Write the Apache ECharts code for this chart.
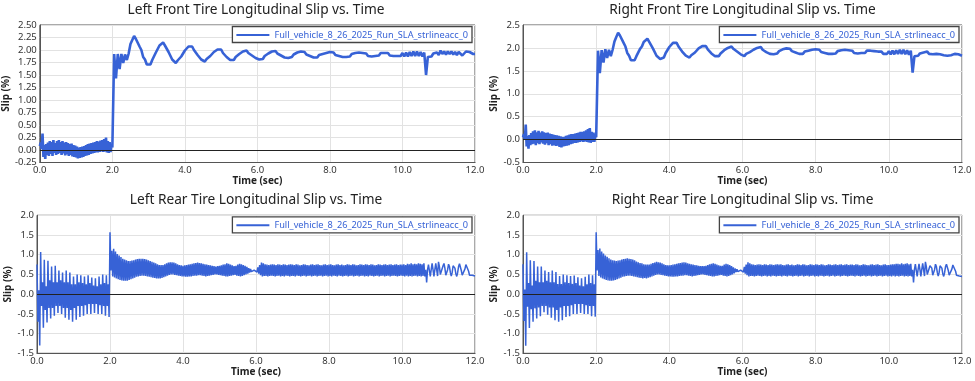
<!DOCTYPE html>
<html><head><meta charset="utf-8">
<script src="https://cdn.jsdelivr.net/npm/echarts@6/dist/echarts.min.js"></script>
<style>html,body{margin:0;padding:0;background:#fff}#c{width:975px;height:381px}</style>
</head><body><div id="c"></div>
<script>
// sample times, 0.05 s
const time = [
0,0.05,0.1,0.15,0.2,0.25,0.3,0.35,0.4,0.45,0.5,0.55,0.6,0.65,0.7,0.75,0.8,0.85,0.9,0.95,
1,1.05,1.1,1.15,1.2,1.25,1.3,1.35,1.4,1.45,1.5,1.55,1.6,1.65,1.7,1.75,1.8,1.85,1.9,1.95,
2,2.05,2.1,2.15,2.2,2.25,2.3,2.35,2.4,2.45,2.5,2.55,2.6,2.65,2.7,2.75,2.8,2.85,2.9,2.95,
3,3.05,3.1,3.15,3.2,3.25,3.3,3.35,3.4,3.45,3.5,3.55,3.6,3.65,3.7,3.75,3.8,3.85,3.9,3.95,
4,4.05,4.1,4.15,4.2,4.25,4.3,4.35,4.4,4.45,4.5,4.55,4.6,4.65,4.7,4.75,4.8,4.85,4.9,4.95,
5,5.05,5.1,5.15,5.2,5.25,5.3,5.35,5.4,5.45,5.5,5.55,5.6,5.65,5.7,5.75,5.8,5.85,5.9,5.95,
6,6.05,6.1,6.15,6.2,6.25,6.3,6.35,6.4,6.45,6.5,6.55,6.6,6.65,6.7,6.75,6.8,6.85,6.9,6.95,
7,7.05,7.1,7.15,7.2,7.25,7.3,7.35,7.4,7.45,7.5,7.55,7.6,7.65,7.7,7.75,7.8,7.85,7.9,7.95,
8,8.05,8.1,8.15,8.2,8.25,8.3,8.35,8.4,8.45,8.5,8.55,8.6,8.65,8.7,8.75,8.8,8.85,8.9,8.95,
9,9.05,9.1,9.15,9.2,9.25,9.3,9.35,9.4,9.45,9.5,9.55,9.6,9.65,9.7,9.75,9.8,9.85,9.9,9.95,
10,10.05,10.1,10.15,10.2,10.25,10.3,10.35,10.4,10.45,10.5,10.55,10.6,10.65,10.7,10.75,10.8,10.85,10.9,10.95,
11,11.05,11.1,11.15,11.2,11.25,11.3,11.35,11.4,11.45,11.5,11.55,11.6,11.65,11.7,11.75,11.8,11.85,11.9,11.95,
12];
// sample times, 0.025 s
const timeFine = [
0,0.025,0.05,0.075,0.1,0.125,0.15,0.175,0.2,0.225,0.25,0.275,0.3,0.325,0.35,0.375,0.4,0.425,0.45,0.475,0.5,0.525,0.55,0.575,0.6,0.625,0.65,0.675,0.7,0.725,0.75,0.775,0.8,0.825,0.85,0.875,0.9,0.925,0.95,0.975,
1,1.025,1.05,1.075,1.1,1.125,1.15,1.175,1.2,1.225,1.25,1.275,1.3,1.325,1.35,1.375,1.4,1.425,1.45,1.475,1.5,1.525,1.55,1.575,1.6,1.625,1.65,1.675,1.7,1.725,1.75,1.775,1.8,1.825,1.85,1.875,1.9,1.925,1.95,1.975,
2,2.025,2.05,2.075,2.1,2.125,2.15,2.175,2.2,2.225,2.25,2.275,2.3,2.325,2.35,2.375,2.4,2.425,2.45,2.475,2.5,2.525,2.55,2.575,2.6,2.625,2.65,2.675,2.7,2.725,2.75,2.775,2.8,2.825,2.85,2.875,2.9,2.925,2.95,2.975,
3,3.025,3.05,3.075,3.1,3.125,3.15,3.175,3.2,3.225,3.25,3.275,3.3,3.325,3.35,3.375,3.4,3.425,3.45,3.475,3.5,3.525,3.55,3.575,3.6,3.625,3.65,3.675,3.7,3.725,3.75,3.775,3.8,3.825,3.85,3.875,3.9,3.925,3.95,3.975,
4,4.025,4.05,4.075,4.1,4.125,4.15,4.175,4.2,4.225,4.25,4.275,4.3,4.325,4.35,4.375,4.4,4.425,4.45,4.475,4.5,4.525,4.55,4.575,4.6,4.625,4.65,4.675,4.7,4.725,4.75,4.775,4.8,4.825,4.85,4.875,4.9,4.925,4.95,4.975,
5,5.025,5.05,5.075,5.1,5.125,5.15,5.175,5.2,5.225,5.25,5.275,5.3,5.325,5.35,5.375,5.4,5.425,5.45,5.475,5.5,5.525,5.55,5.575,5.6,5.625,5.65,5.675,5.7,5.725,5.75,5.775,5.8,5.825,5.85,5.875,5.9,5.925,5.95,5.975,
6,6.025,6.05,6.075,6.1,6.125,6.15,6.175,6.2,6.225,6.25,6.275,6.3,6.325,6.35,6.375,6.4,6.425,6.45,6.475,6.5,6.525,6.55,6.575,6.6,6.625,6.65,6.675,6.7,6.725,6.75,6.775,6.8,6.825,6.85,6.875,6.9,6.925,6.95,6.975,
7,7.025,7.05,7.075,7.1,7.125,7.15,7.175,7.2,7.225,7.25,7.275,7.3,7.325,7.35,7.375,7.4,7.425,7.45,7.475,7.5,7.525,7.55,7.575,7.6,7.625,7.65,7.675,7.7,7.725,7.75,7.775,7.8,7.825,7.85,7.875,7.9,7.925,7.95,7.975,
8,8.025,8.05,8.075,8.1,8.125,8.15,8.175,8.2,8.225,8.25,8.275,8.3,8.325,8.35,8.375,8.4,8.425,8.45,8.475,8.5,8.525,8.55,8.575,8.6,8.625,8.65,8.675,8.7,8.725,8.75,8.775,8.8,8.825,8.85,8.875,8.9,8.925,8.95,8.975,
9,9.025,9.05,9.075,9.1,9.125,9.15,9.175,9.2,9.225,9.25,9.275,9.3,9.325,9.35,9.375,9.4,9.425,9.45,9.475,9.5,9.525,9.55,9.575,9.6,9.625,9.65,9.675,9.7,9.725,9.75,9.775,9.8,9.825,9.85,9.875,9.9,9.925,9.95,9.975,
10,10.025,10.05,10.075,10.1,10.125,10.15,10.175,10.2,10.225,10.25,10.275,10.3,10.325,10.35,10.375,10.4,10.425,10.45,10.475,10.5,10.525,10.55,10.575,10.6,10.625,10.65,10.675,10.7,10.725,10.75,10.775,10.8,10.825,10.85,10.875,10.9,10.925,10.95,10.975,
11,11.025,11.05,11.075,11.1,11.125,11.15,11.175,11.2,11.225,11.25,11.275,11.3,11.325,11.35,11.375,11.4,11.425,11.45,11.475,11.5,11.525,11.55,11.575,11.6,11.625,11.65,11.675,11.7,11.725,11.75,11.775,11.8,11.825,11.85,11.875,11.9,11.925,11.95,11.975,
12];
// front tires: fine steps up to 2.0 s, then 0.05 s
const timeFront = timeFine.slice(0, 81).concat(time.slice(41));

const leftFront = [
0.08,0.15,0.02,0.33,-0.14,0.10,-0.18,0.12,-0.10,0.15,-0.12,0.18,-0.08,0.16,-0.12,0.20,-0.06,0.14,-0.10,0.18,
-0.08,0.20,-0.06,0.16,-0.10,0.18,-0.07,0.15,-0.11,0.16,-0.09,0.14,-0.12,0.12,-0.10,0.13,-0.13,0.10,-0.14,0.09,
-0.15,0.07,-0.17,0.05,-0.16,0.06,-0.15,0.07,-0.14,0.08,-0.12,0.10,-0.11,0.12,-0.10,0.13,-0.08,0.14,-0.07,0.15,
-0.06,0.16,-0.05,0.18,-0.05,0.17,-0.04,0.19,-0.03,0.20,-0.04,0.22,-0.03,0.25,-0.05,0.18,-0.06,0.16,-0.04,0.12,
0.05,
1.92,1.43,1.92,1.62,1.92,1.74,1.91,1.80,1.93,2.12,2.20,2.28,2.22,2.20,2.07,2.00,1.86,1.81,1.71,
1.73,1.71,1.80,1.83,1.95,1.99,2.09,2.09,2.15,2.09,2.08,1.96,1.92,1.81,1.80,1.74,1.79,1.78,1.87,1.89,
1.99,2.00,2.07,2.04,2.07,2.00,2.00,1.90,1.89,1.81,1.82,1.77,1.82,1.80,1.88,1.88,1.96,1.95,2.01,1.98,
2.01,1.94,1.94,1.86,1.87,1.80,1.83,1.80,1.86,1.85,1.92,1.91,1.97,1.95,1.99,1.94,1.96,1.89,1.90,1.84,
1.86,1.81,1.85,1.82,1.88,1.86,1.93,1.91,1.97,1.94,1.98,1.93,1.95,1.89,1.91,1.85,1.88,1.84,1.88,1.86,
1.91,1.89,1.95,1.92,1.97,1.93,1.96,1.91,1.93,1.88,1.90,1.85,1.89,1.85,1.90,1.87,1.92,1.89,1.94,1.91,
1.96,1.92,1.95,1.90,1.93,1.88,1.91,1.86,1.90,1.86,1.90,1.87,1.92,1.89,1.94,1.90,1.95,1.91,1.94,1.90,
1.93,1.88,1.92,1.87,1.91,1.88,1.92,1.89,1.94,1.90,1.94,1.90,1.94,1.89,1.93,1.88,1.92,1.88,1.92,1.88,
1.94,1.87,1.95,1.87,1.96,1.88,1.97,1.88,1.97,1.88,1.96,1.87,1.95,1.50,1.86,1.90,1.87,1.93,1.89,1.95,
1.90,1.99,1.92,1.97,1.91,1.97,1.92,1.97,1.91,1.96,1.90,1.96,1.92,1.89,1.93,1.97,1.99,1.96,1.93,1.92,
1.92];

const rightFront = [
0.05,0.12,0.00,0.33,-0.15,0.08,-0.20,0.10,-0.12,0.14,-0.10,0.18,-0.09,0.20,-0.12,0.16,-0.08,0.19,-0.10,0.15,
-0.06,0.18,-0.09,0.16,-0.11,0.14,-0.08,0.15,-0.12,0.13,-0.10,0.12,-0.13,0.11,-0.12,0.10,-0.14,0.09,-0.13,0.08,
-0.16,0.07,-0.17,0.06,-0.15,0.06,-0.14,0.08,-0.13,0.09,-0.12,0.11,-0.10,0.12,-0.09,0.12,-0.07,0.13,-0.07,0.14,
-0.06,0.15,-0.05,0.17,-0.04,0.17,-0.05,0.18,-0.04,0.20,-0.05,0.23,-0.06,0.25,-0.07,0.17,-0.05,0.15,-0.05,0.10,
0.05,
1.94,1.45,1.95,1.68,1.97,1.78,1.96,1.82,1.96,2.14,2.24,2.33,2.27,2.23,2.11,2.03,1.89,1.83,1.73,
1.75,1.73,1.82,1.86,1.98,2.03,2.13,2.13,2.20,2.13,2.12,1.99,1.95,1.83,1.82,1.76,1.80,1.79,1.89,1.91,
2.02,2.03,2.11,2.07,2.11,2.03,2.03,1.92,1.91,1.83,1.84,1.79,1.84,1.82,1.90,1.90,1.99,1.98,2.04,2.01,
2.04,1.97,1.97,1.88,1.89,1.82,1.85,1.82,1.88,1.87,1.95,1.94,2.00,1.98,2.03,1.98,2.00,1.92,1.93,1.86,
1.88,1.82,1.87,1.84,1.91,1.89,1.96,1.94,2.00,1.97,2.02,1.96,1.98,1.91,1.93,1.87,1.90,1.86,1.90,1.88,
1.93,1.91,1.97,1.94,1.99,1.95,1.98,1.93,1.95,1.90,1.92,1.87,1.91,1.87,1.92,1.89,1.94,1.91,1.96,1.93,
1.97,1.93,1.96,1.91,1.94,1.89,1.92,1.87,1.91,1.87,1.91,1.88,1.93,1.90,1.95,1.91,1.96,1.92,1.95,1.91,
1.94,1.89,1.93,1.88,1.92,1.89,1.93,1.89,1.94,1.90,1.94,1.90,1.93,1.89,1.92,1.88,1.92,1.87,1.91,1.87,
1.93,1.86,1.94,1.86,1.95,1.87,1.96,1.87,1.96,1.86,1.95,1.85,1.94,1.46,1.82,1.86,1.83,1.88,1.85,1.90,
1.86,1.92,1.87,1.91,1.86,1.90,1.87,1.91,1.86,1.89,1.84,1.88,1.83,1.80,1.84,1.88,1.87,1.83,1.86,1.85,
1.83];

const leftRear = [
0.75,-0.70,0.10,-1.30,1.07,-0.30,0.30,-0.85,0.87,-0.40,0.20,-0.72,0.85,-0.35,0.35,-0.62,0.70,-0.35,0.30,-0.55,
0.72,-0.30,0.30,-0.48,0.60,-0.30,0.35,-0.50,0.55,-0.35,0.30,-0.60,0.60,-0.35,0.30,-0.65,0.55,-0.40,0.25,-0.70,
0.45,-0.35,0.25,-0.65,0.50,-0.30,0.30,-0.58,0.48,-0.30,0.28,-0.55,0.45,-0.28,0.25,-0.50,0.48,-0.25,0.28,-0.50,
0.42,-0.25,0.22,-0.48,0.40,-0.25,0.20,-0.50,0.45,-0.28,0.25,-0.50,0.50,-0.30,0.28,-0.55,0.48,-0.30,0.25,-0.58,
1.57,0.60,1.10,0.45,1.15,0.42,1.08,0.40,1.02,0.38,0.98,0.36,0.94,0.35,0.90,0.34,0.88,0.34,0.86,0.34,
0.84,0.36,0.84,0.38,0.85,0.40,0.86,0.42,0.88,0.44,0.89,0.45,0.90,0.46,0.90,0.47,0.90,0.47,0.89,0.46,
0.88,0.45,0.86,0.44,0.84,0.43,0.82,0.42,0.80,0.41,0.78,0.40,0.76,0.40,0.74,0.40,0.74,0.41,0.74,0.43,
0.76,0.45,0.78,0.47,0.80,0.49,0.81,0.50,0.81,0.50,0.80,0.49,0.78,0.48,0.76,0.47,0.74,0.46,0.73,0.45,
0.72,0.45,0.73,0.44,0.74,0.44,0.75,0.45,0.76,0.45,0.77,0.46,0.78,0.47,0.79,0.47,0.80,0.48,0.79,0.48,
0.78,0.47,0.77,0.46,0.76,0.45,0.75,0.46,0.74,0.47,0.73,0.48,0.72,0.49,0.71,0.50,0.70,0.50,0.71,0.49,
0.72,0.48,0.73,0.47,0.75,0.46,0.76,0.45,0.78,0.45,0.77,0.46,0.75,0.47,0.73,0.48,0.71,0.49,0.72,0.47,
0.75,0.46,0.77,0.45,0.76,0.46,0.74,0.48,0.72,0.50,0.69,0.52,0.66,0.55,0.64,0.57,0.62,0.58,0.61,0.59,
0.63,0.56,0.68,0.52,0.74,0.48,0.80,0.45,0.78,0.46,0.76,0.46,0.75,0.45,0.74,0.46,0.75,0.47,0.76,0.46,
0.75,0.45,0.74,0.46,0.76,0.47,0.75,0.45,0.74,0.46,0.76,0.45,0.75,0.47,0.74,0.46,0.75,0.45,0.76,0.46,
0.75,0.46,0.74,0.45,0.76,0.47,0.75,0.46,0.73,0.45,0.74,0.46,0.76,0.47,0.75,0.45,0.74,0.46,0.73,0.47,
0.75,0.45,0.76,0.46,0.74,0.47,0.75,0.45,0.76,0.46,0.74,0.47,0.73,0.45,0.75,0.46,0.76,0.47,0.74,0.45,
0.75,0.46,0.76,0.45,0.74,0.47,0.73,0.46,0.75,0.45,0.76,0.47,0.74,0.46,0.75,0.45,0.73,0.46,0.74,0.47,
0.76,0.45,0.75,0.46,0.74,0.47,0.76,0.45,0.75,0.46,0.73,0.47,0.74,0.45,0.76,0.46,0.75,0.47,0.74,0.45,
0.76,0.46,0.75,0.45,0.74,0.47,0.76,0.46,0.75,0.45,0.73,0.46,0.74,0.47,0.76,0.45,0.75,0.46,0.74,0.47,
0.75,0.45,0.76,0.46,0.74,0.47,0.75,0.45,0.76,0.46,0.74,0.47,0.75,0.46,0.76,0.45,0.74,0.46,0.75,0.47,
0.75,0.46,0.76,0.45,0.74,0.47,0.77,0.45,0.76,0.46,0.78,0.45,0.76,0.46,0.77,0.47,0.76,0.45,0.78,0.46,
0.77,0.45,0.76,0.46,0.78,0.45,0.62,0.30,0.62,0.75,0.60,0.45,0.62,0.78,0.62,0.45,0.62,0.78,0.62,0.46,
0.82,0.70,0.50,0.45,0.55,0.72,0.78,0.66,0.48,0.46,0.62,0.76,0.70,0.55,0.46,0.55,0.72,0.76,0.66,0.52,
0.45,0.55,0.70,0.77,0.72,0.60,0.48,0.45,0.52,0.64,0.75,0.77,0.70,0.58,0.48,0.45,0.47,0.48,0.47,0.46,
0.46];

const rightRear = [
0.76,-0.68,0.12,-1.31,1.06,-0.32,0.28,-0.86,0.86,-0.38,0.22,-0.70,0.84,-0.36,0.34,-0.62,0.70,-0.34,0.30,-0.56,
0.70,-0.30,0.30,-0.46,0.60,-0.30,0.34,-0.52,0.56,-0.34,0.30,-0.60,0.60,-0.34,0.30,-0.66,0.56,-0.40,0.26,-0.70,
0.46,-0.34,0.26,-0.66,0.50,-0.30,0.30,-0.58,0.48,-0.30,0.28,-0.56,0.46,-0.28,0.26,-0.50,0.47,-0.25,0.28,-0.50,
0.43,-0.25,0.22,-0.48,0.40,-0.25,0.20,-0.50,0.44,-0.28,0.25,-0.50,0.50,-0.30,0.28,-0.56,0.48,-0.30,0.25,-0.57,
1.57,0.60,1.12,0.46,1.16,0.42,1.08,0.40,1.03,0.38,0.98,0.36,0.95,0.35,0.91,0.34,0.88,0.34,0.86,0.35,
0.85,0.36,0.84,0.38,0.85,0.40,0.86,0.42,0.88,0.44,0.89,0.45,0.90,0.46,0.91,0.47,0.90,0.47,0.89,0.46,
0.88,0.45,0.86,0.44,0.83,0.43,0.81,0.42,0.79,0.41,0.78,0.40,0.76,0.41,0.75,0.40,0.75,0.42,0.75,0.43,
0.77,0.45,0.79,0.47,0.80,0.49,0.82,0.50,0.81,0.50,0.80,0.49,0.78,0.48,0.76,0.47,0.74,0.46,0.73,0.45,
0.73,0.45,0.74,0.44,0.75,0.44,0.76,0.45,0.77,0.45,0.78,0.46,0.79,0.47,0.80,0.47,0.81,0.48,0.80,0.48,
0.78,0.47,0.77,0.46,0.76,0.45,0.75,0.46,0.74,0.47,0.73,0.48,0.72,0.49,0.71,0.50,0.71,0.50,0.71,0.49,
0.72,0.48,0.74,0.47,0.76,0.46,0.77,0.45,0.78,0.45,0.77,0.46,0.75,0.47,0.73,0.48,0.72,0.49,0.72,0.47,
0.75,0.46,0.77,0.45,0.76,0.46,0.74,0.48,0.71,0.50,0.68,0.53,0.65,0.56,0.63,0.57,0.62,0.58,0.61,0.59,
0.64,0.56,0.69,0.52,0.75,0.48,0.81,0.45,0.78,0.46,0.76,0.46,0.75,0.45,0.74,0.46,0.75,0.47,0.76,0.46,
0.75,0.45,0.74,0.46,0.76,0.47,0.75,0.45,0.74,0.46,0.76,0.45,0.75,0.47,0.74,0.46,0.75,0.45,0.76,0.46,
0.75,0.46,0.76,0.45,0.74,0.47,0.73,0.46,0.75,0.45,0.76,0.47,0.74,0.46,0.75,0.45,0.73,0.46,0.74,0.47,
0.76,0.45,0.75,0.46,0.74,0.47,0.76,0.45,0.75,0.46,0.73,0.47,0.74,0.45,0.76,0.46,0.75,0.47,0.74,0.45,
0.76,0.46,0.75,0.45,0.74,0.47,0.76,0.46,0.75,0.45,0.73,0.46,0.74,0.47,0.76,0.45,0.75,0.46,0.74,0.47,
0.75,0.45,0.76,0.46,0.74,0.47,0.75,0.45,0.76,0.46,0.74,0.47,0.75,0.46,0.76,0.45,0.74,0.46,0.75,0.47,
0.75,0.46,0.74,0.45,0.76,0.47,0.75,0.46,0.73,0.45,0.74,0.46,0.76,0.47,0.75,0.45,0.74,0.46,0.73,0.47,
0.75,0.45,0.76,0.46,0.74,0.47,0.75,0.45,0.76,0.46,0.74,0.47,0.73,0.45,0.75,0.46,0.76,0.47,0.74,0.45,
0.74,0.46,0.75,0.45,0.76,0.47,0.76,0.45,0.77,0.46,0.77,0.45,0.76,0.46,0.78,0.47,0.76,0.45,0.77,0.46,
0.78,0.45,0.76,0.46,0.77,0.45,0.62,0.30,0.62,0.76,0.60,0.45,0.62,0.77,0.62,0.45,0.62,0.78,0.62,0.46,
0.82,0.70,0.50,0.45,0.55,0.72,0.77,0.66,0.48,0.46,0.62,0.76,0.70,0.55,0.46,0.55,0.72,0.76,0.66,0.52,
0.45,0.55,0.70,0.76,0.72,0.60,0.48,0.45,0.52,0.64,0.74,0.77,0.70,0.58,0.48,0.45,0.46,0.46,0.45,0.45,
0.45];

const titles = [
  'Left Front Tire Longitudinal Slip vs. Time',
  'Right Front Tire Longitudinal Slip vs. Time',
  'Left Rear Tire Longitudinal Slip vs. Time',
  'Right Rear Tire Longitudinal Slip vs. Time'
];
const seriesName = 'Full_vehicle_8_26_2025_Run_SLA_strlineacc_0';
const xTitle = 'Time (sec)';
const yTitle = 'Slip (%)';

const FONT = 'Noto Sans';
const LINE = '#3762d6';
const panels = [
  {t:timeFront, vals:leftFront,  ymin:-0.25, ymax:2.5, yint:0.25, dec:2, grid:{left:37, top:25, width:438, height:137.5}, yGap:26, titleTop:3, lw:2.6},
  {t:timeFront, vals:rightFront, ymin:-0.5,  ymax:2.5, yint:0.5,  dec:1, grid:{left:523, top:25, width:439, height:137.5}, yGap:21.5, titleTop:3, lw:2.6},
  {t:timeFine,  vals:leftRear,   ymin:-1.5,  ymax:2.0, yint:0.5,  dec:1, grid:{left:37, top:215.3, width:438, height:138}, yGap:22.5, titleTop:193.5, lw:1.5},
  {t:timeFine,  vals:rightRear,  ymin:-1.5,  ymax:2.0, yint:0.5,  dec:1, grid:{left:523, top:215.3, width:439, height:138}, yGap:21.5, titleTop:193.5, lw:1.5}
];

const chart = echarts.init(document.getElementById('c'), null, {renderer:'canvas'});
const option = {
  animation:false,
  backgroundColor:'#fff',
  title: panels.map((p,i)=>({
    text: titles[i], left: p.grid.left + p.grid.width/2, top: p.titleTop, textAlign:'center', padding:0,
    textStyle:{fontFamily:FONT, fontSize:13.7, fontWeight:'normal', color:'#222'}
  })),
  legend: panels.map((p,i)=>({
    data:[seriesName], selectedMode:false,
    right: 975 - (p.grid.left + p.grid.width) + 3, top: p.grid.top + 1.5,
    icon:'rect', itemWidth:33, itemHeight:2, padding:[4,4,3,4],
    borderColor:'#444', borderWidth:1.3, borderRadius:0, backgroundColor:'#fff',
    textStyle:{fontFamily:FONT, fontSize:9.2, color:LINE}
  })),
  grid: panels.map(p=>Object.assign({show:true, borderColor:'#555', borderWidth:1, containLabel:false}, p.grid)),
  xAxis: panels.map((p,i)=>({
    type:'value', gridIndex:i, min:0, max:12, interval:2,
    name:xTitle, nameLocation:'middle', nameGap:13,
    nameTextStyle:{fontFamily:FONT, fontSize:10, fontWeight:'bold', color:'#222'},
    axisLine:{show:true, onZero:false, lineStyle:{color:'#555', width:1}},
    axisTick:{show:false},
    axisLabel:{fontFamily:FONT, fontSize:9.5, color:'#333', margin:3, formatter:v=>v.toFixed(1)},
    splitLine:{show:true, lineStyle:{color:'#e2e2e2', width:1}}
  })),
  yAxis: panels.map((p,i)=>({
    type:'value', gridIndex:i, min:p.ymin, max:p.ymax, interval:p.yint,
    name:yTitle, nameLocation:'middle', nameGap:p.yGap,
    nameTextStyle:{fontFamily:FONT, fontSize:10, fontWeight:'bold', color:'#222'},
    axisLine:{show:true, onZero:false, lineStyle:{color:'#555', width:1}},
    axisTick:{show:false},
    axisLabel:{fontFamily:FONT, fontSize:9.5, color:'#333', margin:3, formatter:v=>v.toFixed(p.dec)},
    splitLine:{show:true, lineStyle:{color:'#e2e2e2', width:1}}
  })),
  series: panels.map((p,i)=>({
    name:seriesName, type:'line', xAxisIndex:i, yAxisIndex:i,
    data: p.vals.map((v,k)=>[p.t[k], v]),
    showSymbol:false, symbol:'none', sampling:null,
    lineStyle:{color:LINE, width:p.lw}, itemStyle:{color:LINE},
    markLine:{silent:true, symbol:'none', label:{show:false}, animation:false,
      lineStyle:{color:'#222', width:1, type:'solid'}, data:[{yAxis:0}]}
  }))
};
chart.setOption(option);
</script></body></html>
